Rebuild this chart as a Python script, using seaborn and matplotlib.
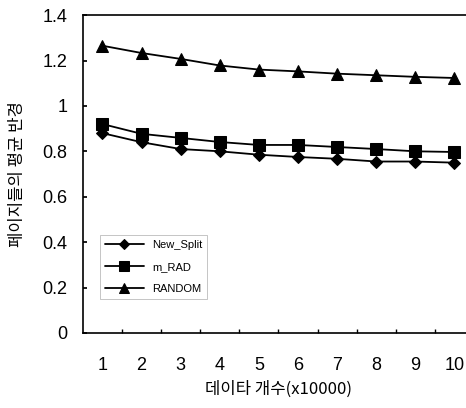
import matplotlib
matplotlib.use("Agg")
import matplotlib.pyplot as plt
import seaborn as sns
import pandas as pd
from matplotlib.ticker import FixedLocator

sns.set_theme(style="white")
plt.rcParams['font.family'] = ['Liberation Sans', 'Noto Sans CJK KR', 'DejaVu Sans']
plt.rcParams['text.color'] = 'black'
plt.rcParams['axes.labelcolor'] = 'black'
plt.rcParams['xtick.color'] = 'black'
plt.rcParams['ytick.color'] = 'black'

x_vals = [1, 2, 3, 4, 5, 6, 7, 8, 9, 10]
new_split = [0.88, 0.84, 0.81, 0.80, 0.785, 0.775, 0.767, 0.755, 0.755, 0.75]
m_rad = [0.92, 0.877, 0.859, 0.841, 0.828, 0.828, 0.819, 0.81, 0.80, 0.797]
random_ = [1.265, 1.233, 1.207, 1.178, 1.16, 1.152, 1.142, 1.135, 1.128, 1.123]
series_names = ["New_Split", "m_RAD", "RANDOM"]
markers = ["D", "s", "^"]
y_ticks = [0, 0.2, 0.4, 0.6, 0.8, 1.0, 1.2, 1.4]
y_tick_labels = ["0", "0.2", "0.4", "0.6", "0.8", "1", "1.2", "1.4"]

fig = plt.figure(figsize=(4.66, 4.08), dpi=100)
ax = fig.add_axes([0.178, 0.184, 0.839, 0.779])

for name, vals, mk in zip(series_names, [new_split, m_rad, random_], markers):
    df = pd.DataFrame({"x": x_vals, "y": vals})
    sns.lineplot(data=df, x="x", y="y", ax=ax, color="black", marker=mk,
                 markersize=9 if mk != "D" else 6.5, markeredgecolor="black",
                 linewidth=1.3, label=name)

ax.set_xlim(0.5, 10.5)
ax.set_ylim(0, 1.4)
ax.set_yticks(y_ticks)
ax.set_yticklabels(y_tick_labels, fontsize=13, color="black")
ax.set_xticks(x_vals)
ax.set_xticklabels([str(v) for v in x_vals], fontsize=13, color="black")
ax.xaxis.set_minor_locator(FixedLocator([v + 0.5 for v in x_vals[:-1]]))
ax.tick_params(axis="x", which="major", length=0, pad=17)
ax.tick_params(axis="x", which="minor", length=3, direction="in", bottom=True, color="black")
ax.tick_params(axis="y", which="major", length=3, direction="in", left=True, pad=11, color="black")

for s in ["left", "bottom", "top"]:
    ax.spines[s].set_color("black")
    ax.spines[s].set_linewidth(1.2)
ax.spines["right"].set_visible(False)

ax.set_xlabel("데이타 개수(x10000)", fontsize=12, family=['Noto Sans CJK KR', 'DejaVu Sans'],
              labelpad=5, color="black")
ax.set_ylabel("페이지들의 평균 반경", fontsize=12, family=['Noto Sans CJK KR', 'DejaVu Sans'],
              labelpad=12, color="black")

leg = ax.legend(loc="lower left", bbox_to_anchor=(0.03, 0.09), fontsize=8, frameon=True,
                fancybox=False, edgecolor="#aaaaaa", handlelength=3.5, labelspacing=1.1,
                markerscale=0.75)
leg.get_frame().set_linewidth(0.6)
for t in leg.get_texts():
    t.set_color("black")

fig.savefig("out.png", dpi=100)
